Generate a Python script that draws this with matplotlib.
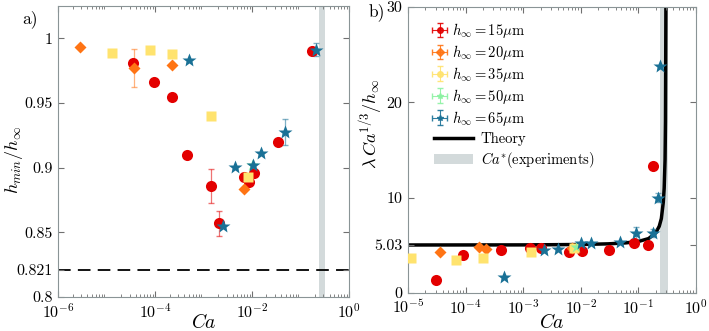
import numpy as np
import matplotlib
matplotlib.use('Agg')
import matplotlib.pyplot as plt
from matplotlib.patches import Patch

plt.rcParams['font.family'] = 'serif'
plt.rcParams['font.serif'] = ['cmr10', 'DejaVu Serif']
plt.rcParams['mathtext.fontset'] = 'cm'
plt.rcParams['axes.formatter.use_mathtext'] = True
plt.rcParams['axes.unicode_minus'] = False

# ---- panel a) h_min / h_inf ----
a15_ca = [10**-4.45, 10**-4.02, 10**-3.65, 10**-3.34, 10**-2.85, 10**-2.67, 10**-2.16, 10**-2.06, 10**-1.96, 10**-1.46, 10**-0.76]
a15_h = [0.981, 0.966, 0.955, 0.910, 0.886, 0.857, 0.8925, 0.8887, 0.896, 0.9196, 0.990]
a15_err = [0, 0, 0, 0, 0.013, 0.0095, 0, 0, 0, 0, 0]

a20_ca = [10**-5.54, 10**-4.43, 10**-3.65, 10**-2.16]
a20_h = [0.9933, 0.977, 0.979, 0.8835]
a20_err = [0, 0.0145, 0, 0]

a35_ca = [10**-4.88, 10**-4.11, 10**-3.64, 10**-2.85, 10**-2.08]
a35_h = [0.989, 0.9907, 0.988, 0.940, 0.8925]

a50_ca = [10**-2.0]
a50_h = [0.902]

a65_ca = [10**-3.29, 10**-2.60, 10**-2.35, 10**-1.97, 10**-1.81, 10**-1.31, 10**-0.67]
a65_h = [0.9835, 0.8546, 0.9003, 0.9018, 0.911, 0.9273, 0.991]
a65_err = [0, 0, 0, 0, 0, 0.010, 0.005]

h_limit = 0.821

# ---- panel b) lambda Ca^1/3 / h_inf ----
b15_ca = [10**-4.52, 10**-4.05, 10**-3.38, 10**-2.89, 10**-2.70, 10**-2.20, 10**-1.98, 10**-1.51, 10**-1.07, 10**-0.84, 10**-0.75]
b15_v = [1.36, 3.96, 4.5, 4.75, 4.68, 4.32, 4.43, 4.5, 5.21, 5.04, 13.36]

b20_ca = [10**-4.45, 10**-3.76, 10**-3.65, 10**-2.15]
b20_v = [4.32, 4.86, 4.57, 4.68]

b35_ca = [10**-4.94, 10**-4.16, 10**-3.69, 10**-2.87, 10**-2.11]
b35_v = [3.68, 3.43, 3.71, 4.32, 4.75]

b50_ca = [10**-2.09]
b50_v = [4.86]

b65_ca = [10**-3.34, 10**-2.64, 10**-2.39, 10**-1.99, 10**-1.83, 10**-1.32, 10**-1.05, 10**-0.75, 10**-0.66, 10**-0.62]
b65_v = [1.64, 4.5, 4.6, 5.29, 5.21, 5.32, 6.29, 6.29, 10.0, 23.8]
b65_err = [0, 0, 0, 0, 0, 0, 0.6, 0.4, 0.5, 0]

theory_ca = [1e-5, 1e-3, 1e-2, 3e-2, 6e-2, 0.1, 0.15, 0.2, 0.23, 0.25, 0.27, 0.28, 0.29, 0.295, 0.3]
theory_v = [5.03, 5.04, 5.08, 5.15, 5.25, 5.4, 5.7, 6.3, 7.0, 7.8, 9.5, 11, 14, 18, 30]

ca_star = (0.24, 0.33)

red = '#e30000'
orange = '#ff7414'
yellow = '#ffe36e'
green = '#8cf2a2'
blue = '#1a7196'
band = '#d3dadb'

fig = plt.figure(figsize=(7.09, 3.31), dpi=100)
ax1 = fig.add_axes([0.0818, 0.1027, 0.4102, 0.8792])
ax2 = fig.add_axes([0.5755, 0.115, 0.4062, 0.864])


def style(ax):
    for s in ax.spines.values():
        s.set_color('#8a9496')
        s.set_linewidth(0.8)
    ax.tick_params(which='both', direction='in', top=True, right=True, color='#707070', labelsize=11.5)
    ax.tick_params(which='major', length=4, pad=4)
    ax.tick_params(which='minor', length=2)
    ax.set_xscale('log')


def series(ax, x, y, err, c, mk, ms):
    if err is not None:
        ax.errorbar(x, y, yerr=err, fmt='none', ecolor=c, alpha=0.55, capsize=2.5, lw=0.9, zorder=2)
    ax.plot(x, y, mk, color=c, ms=ms, mec='none', zorder=3)


# panel a
style(ax1)
ax1.axvspan(ca_star[0], ca_star[1], color=band, zorder=0, lw=0)
ax1.axhline(h_limit, color='k', ls=(0, (7, 4)), lw=1.3, zorder=1)
series(ax1, a15_ca, a15_h, a15_err, red, 'o', 8)
series(ax1, a20_ca, a20_h, a20_err, orange, 'D', 6.5)
series(ax1, a35_ca, a35_h, None, yellow, 's', 6.5)
series(ax1, a50_ca, a50_h, None, green, '*', 9)
series(ax1, a65_ca, a65_h, a65_err, blue, '*', 10)
ax1.set_xlim(1e-6, 1)
ax1.set_ylim(0.8, 1.025)
ax1.set_xticks([1e-6, 1e-4, 1e-2, 1])
ax1.set_yticks([0.8, 0.821, 0.85, 0.9, 0.95, 1])
ax1.set_yticklabels(['0.8', '0.821', '0.85', '0.9', '0.95', '1'])
ax1.set_xlabel('$Ca$', fontsize=14)
ax1.xaxis.set_label_coords(0.5, -0.055)
ax1.set_ylabel('$h_{min}/h_\\infty$', fontsize=13)
ax1.yaxis.set_label_coords(-0.115, 0.47)
ax1.text(-0.069, 0.985, 'a)', transform=ax1.transAxes, fontsize=12.5, va='top', ha='right')

# panel b
style(ax2)
ax2.axvspan(ca_star[0], ca_star[1], color=band, zorder=0, lw=0)
ax2.plot(theory_ca, theory_v, color='k', lw=2.5, zorder=1)
series(ax2, b15_ca, b15_v, None, red, 'o', 8)
series(ax2, b20_ca, b20_v, None, orange, 'D', 6.5)
series(ax2, b35_ca, b35_v, None, yellow, 's', 6.5)
series(ax2, b50_ca, b50_v, None, green, '*', 9)
series(ax2, b65_ca, b65_v, b65_err, blue, '*', 10)
ax2.set_xlim(1e-5, 1)
ax2.set_ylim(0, 30)
ax2.set_xticks([1e-5, 1e-4, 1e-3, 1e-2, 1e-1, 1])
ax2.set_yticks([0, 5.03, 10, 20, 30])
ax2.set_yticklabels(['0', '5.03', '10', '20', '30'])
ax2.set_xlabel('$Ca$', fontsize=14)
ax2.xaxis.set_label_coords(0.5, -0.07)
ax2.set_ylabel('$\\lambda\\, Ca^{1/3}/h_\\infty$', fontsize=13)
ax2.yaxis.set_label_coords(-0.08, 0.59)
ax2.text(-0.08, 1.015, 'b)', transform=ax2.transAxes, fontsize=12.5, va='top', ha='right')

handles = []
labels = []
for c, mk, h in [(red, 'o', 15), (orange, 'D', 20), (yellow, 'o', 35), (green, '*', 50), (blue, '*', 65)]:
    hd = ax2.errorbar([np.nan], [np.nan], xerr=[1], yerr=[1], fmt=mk, color=c, ms=4,
                      ecolor=c, elinewidth=0.8, capsize=2, alpha=0.9)
    handles.append(hd)
    labels.append('$h_\\infty = %d\\mu$m' % h)
leg1 = fig.legend(handles, labels, loc='upper left', bbox_to_anchor=(432 / 709, 1 - 21 / 331),
                  frameon=False, fontsize=10.5, handlelength=1.05, handletextpad=0.35,
                  labelspacing=0.2, borderpad=0, borderaxespad=0)

handles2 = [plt.Line2D([], [], color='k', lw=2.5), Patch(color=band, lw=0)]
labels2 = ['Theory', '$Ca^{*}$(experiments)']
leg2 = fig.legend(handles2, labels2, loc='upper left', bbox_to_anchor=(434 / 709, 1 - 132 / 331),
                  frameon=False, fontsize=10.5, handlelength=2.7, handletextpad=0.5,
                  labelspacing=0.3, borderpad=0, borderaxespad=0)

plt.savefig('out.png', dpi=100)
